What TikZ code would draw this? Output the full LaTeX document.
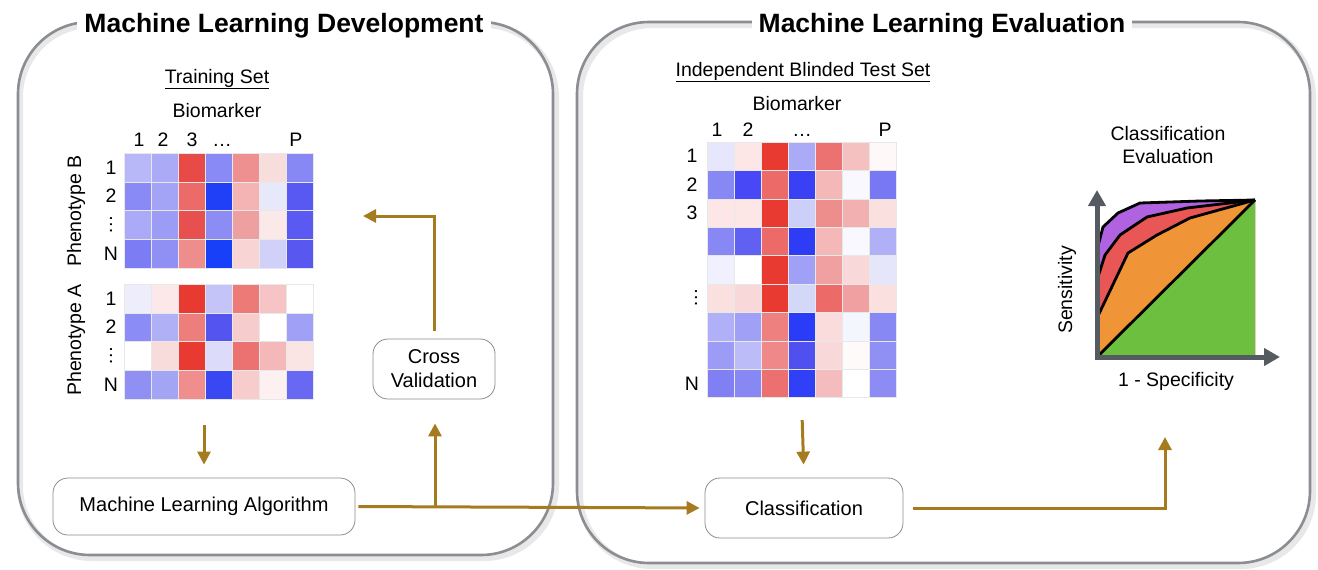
\documentclass[tikz,border=0pt]{standalone}
\usepackage{fontspec}
\setmainfont{Liberation Sans}
\usepackage{xcolor}
\usetikzlibrary{positioning,arrows.meta,calc,fit}
\definecolor{flowcol}{HTML}{A67A1F}
\definecolor{panelcol}{HTML}{8A8E93}
\definecolor{axiscol}{HTML}{555B61}
\definecolor{roccolA}{HTML}{B062E0}
\definecolor{roccolB}{HTML}{E85656}
\definecolor{roccolC}{HTML}{F09438}
\definecolor{roccolD}{HTML}{6CBF3F}

% heat map: x0, y0, row height, rows of cell colours
\newcommand\heatmap[4]{%
  \foreach \row [count=\i] in {#4} {
    \foreach \c [count=\j] in \row {
      \edef\setcell{\noexpand\definecolor{cellc}{HTML}{\c}}\setcell
      \filldraw[fill=cellc, draw=black!9, line width=0.5pt]
        ({#1+(\j-1)*27},{#2+(\i-1)*#3}) rectangle ++(27,#3);
    }
  }%
}

\begin{document}
\begin{tikzpicture}[
  x=1pt, y=-1pt,
  txt/.style={font=\fontsize{19.5}{23}\selectfont, inner sep=1pt},
  title/.style={font=\fontsize{26.5}{30}\selectfont\bfseries, fill=white, inner xsep=7pt, inner ysep=4pt, anchor=base},
  panel/.style={draw=panelcol, line width=2.6pt, rounded corners=72pt},
  panelshadow/.style={draw=black!9, line width=6pt, rounded corners=72pt},
  stepbox/.style={draw=black!45, line width=0.8pt, rounded corners=15pt, align=center,
    font=\fontsize{20}{24}\selectfont},
  flow/.style={draw=flowcol, line width=3pt, -{Triangle[length=13pt,width=13pt]}},
  axis/.style={draw=axiscol, line width=5pt, -{Triangle[length=16pt,width=17pt]}},
  roc/.style={draw=black, line width=2.8pt, line join=round},
]
\useasboundingbox (0,0) rectangle (1318,570);

% ============================================================
% PANELS
% ============================================================
\draw[panelshadow] (20,25) rectangle (556,558);
\draw[panel] (18,22) rectangle (553,555);
\draw[panelshadow] (580,25) rectangle (1313,566);
\draw[panel] (577,22) rectangle (1310,563);

\node[title] (devtitle) at (284,32) {Machine Learning Development};
\node[title] (evaltitle) at (942,32) {Machine Learning Evaluation};

% ============================================================
% LEFT PANEL: training set
% ============================================================
\node[txt, anchor=base] (trainset) at (217,83) {\underline{Training Set}};
\node[txt, anchor=base] (trainbio) at (217,117) {Biomarker};
\foreach \lab/\x in {1/139, 2/163, 3/192, \dots/222, P/296}
  \node[txt, anchor=base] at (\x,146) {\lab};

% Phenotype B
\heatmap{124}{153}{28.75}{
  {B8B8F8,AAAAF6,E84A48,8A8AF6,EE9090,F8DDDD,8888F5},
  {8A8AF6,A4A4F6,EC6A68,2040F8,F4B4B4,E8E8FB,5858F2},
  {AAAAF8,9C9CF6,E85050,8C8CF4,EEA0A0,FBE8E8,5A5AF2},
  {7C7CF4,9090F4,EF8C8C,1840F8,F8D4D4,D0D0F8,5858F0}}
\node[fit={(124,153) (313,268)}, inner sep=0pt] (heatB) {};
\node[txt, rotate=90] (phenoB) at (76,211) {Phenotype B};
\foreach \lab/\i in {1/1, 2/2, N/4}
  \node[txt] at (111,{153+(\i-0.5)*28.75}) {\lab};
\node[txt, rotate=90] at (111,{153+2.5*28.75}) {\dots};

% Phenotype A
\heatmap{124}{284}{28.75}{
  {EDEDFC,FCE8E8,E83A30,C4C4F8,EE7A78,F6C4C4,FFFFFF},
  {8C8CF6,B0B0F6,EE7E7C,5454F0,F6CCCC,FFFFFF,A0A0F6},
  {FFFFFF,F8DCDC,E83A30,DCDCFA,EC7272,F4B8B8,FBE4E4},
  {9090F4,A4A4F4,EF8E8C,3A48F4,F6CCCC,FDF0F0,6868F2}}
\node[fit={(124,284) (313,399)}, inner sep=0pt] (heatA) {};
\node[txt, rotate=90] (phenoA) at (76,340) {Phenotype A};
\foreach \lab/\i in {1/1, 2/2, N/4}
  \node[txt] at (111,{284+(\i-0.5)*28.75}) {\lab};
\node[txt, rotate=90] at (111,{284+2.5*28.75}) {\dots};

% steps
\node[stepbox, minimum width=302pt, minimum height=57pt] (mla) at (204,506.5) {Machine Learning Algorithm};
\node[stepbox, minimum width=122pt, minimum height=60pt] (cv) at (434,369) {Cross\\Validation};

% ============================================================
% RIGHT PANEL: blinded test set
% ============================================================
\node[txt, anchor=base] (testset) at (803,76) {\underline{Independent Blinded Test Set}};
\node[txt, anchor=base] (testbio) at (797,110) {Biomarker};
\foreach \lab/\x in {1/717, 2/748, \dots/802, P/885}
  \node[txt, anchor=base] at (\x,136) {\lab};

\heatmap{707}{142}{28.4}{
  {E6E6FC,FCE6E6,E83A30,AAAAF6,EC7272,F4C0C0,FEF8F8},
  {8888F4,4848F6,EC6A68,3A40F4,F4B8B8,F8F8FE,7878F4},
  {FCE6E6,FCE6E6,E83A30,CCCFF8,EE8E8C,F2B0B0,FBE0E0},
  {8888F4,6060F2,EC6A68,2F3CF6,F4B8B8,F8F8FE,B0B0F6},
  {F0F0FE,FFFFFF,E83A30,A0A0F6,F0A0A0,F8D8D8,E6E6FB},
  {FBE0E0,F8D8D8,E83A30,D4D8F8,EC6A68,F0A0A0,FBE0E0},
  {B0B0F8,A0A0F6,EF8080,2A3CF8,FBDCDC,F4F6FE,8888F4},
  {9C9CF6,BCBCF8,EF8888,5050F0,F8D8D8,FEFAFA,9090F4},
  {8080F4,8888F4,EC7070,3040F6,F4BCBC,FFFFFF,8C8CF4}}
\node[fit={(707,142) (896,398)}, inner sep=0pt] (heatT) {};
\foreach \lab/\i in {1/1, 2/2, 3/3, N/9}
  \node[txt] at (692,{142+(\i-0.5)*28.4}) {\lab};
\node[txt, rotate=90] at (696,{142+5.5*28.4}) {\dots};

\node[stepbox, minimum width=198pt, minimum height=60pt] (cls) at (804,508) {Classification};

% ROC plot
\node[txt, align=center] (roctitle) at (1168,145) {Classification\\Evaluation};
\fill[roccolA] (1097,357) -- (1097,250) -- (1103,227) -- (1118,213) -- (1140,203) -- (1200,201) -- (1255,200) -- (1255,357) -- cycle;
\fill[roccolB] (1097,357) -- (1097,280) -- (1105,255) -- (1120,235) -- (1147,217) -- (1187,208) -- (1255,200) -- (1255,357) -- cycle;
\fill[roccolC] (1097,357) -- (1097,318) -- (1128,253) -- (1157,235) -- (1190,218) -- (1255,200) -- (1255,357) -- cycle;
\fill[roccolD] (1097,357) -- (1255,200) -- (1255,357) -- cycle;
\draw[roc] (1097,250) -- (1103,227) -- (1118,213) -- (1140,203) -- (1200,201) -- (1255,200);
\draw[roc] (1097,280) -- (1105,255) -- (1120,235) -- (1147,217) -- (1187,208) -- (1255,200);
\draw[roc] (1097,318) -- (1128,253) -- (1157,235) -- (1190,218) -- (1255,200);
\draw[roc] (1097,357) -- (1255,200);
\draw[axis] (1097,359.5) -- (1097,190);
\draw[axis] (1094.5,357) -- (1280,357);
\node[txt, rotate=90] (sens) at (1067,290) {Sensitivity};
\node[txt, anchor=base] (spec) at (1176,386) {1 - Specificity};

% ============================================================
% FLOW ARROWS
% ============================================================
\coordinate (split) at (435,507);
\coordinate (cvtip) at (363,216);
\coordinate (roctip) at (1165,437);

\draw[flow, shorten <=26pt, shorten >=13pt] (heatA.south -| mla.north) -- (mla.north);
\draw[flow, shorten <=3pt, shorten >=5pt] (mla.east) -- (cls.west);
\draw[flow, shorten >=24pt] (split) -- (split |- cv.south);
\draw[flow, shorten <=8pt] (cv.north) |- (cvtip);
\draw[flow, shorten <=22pt, shorten >=13pt] (heatT.south) -- (cls.north);
\draw[flow, shorten <=10pt] (cls.east) -| (roctip);

\end{tikzpicture}
\end{document}
